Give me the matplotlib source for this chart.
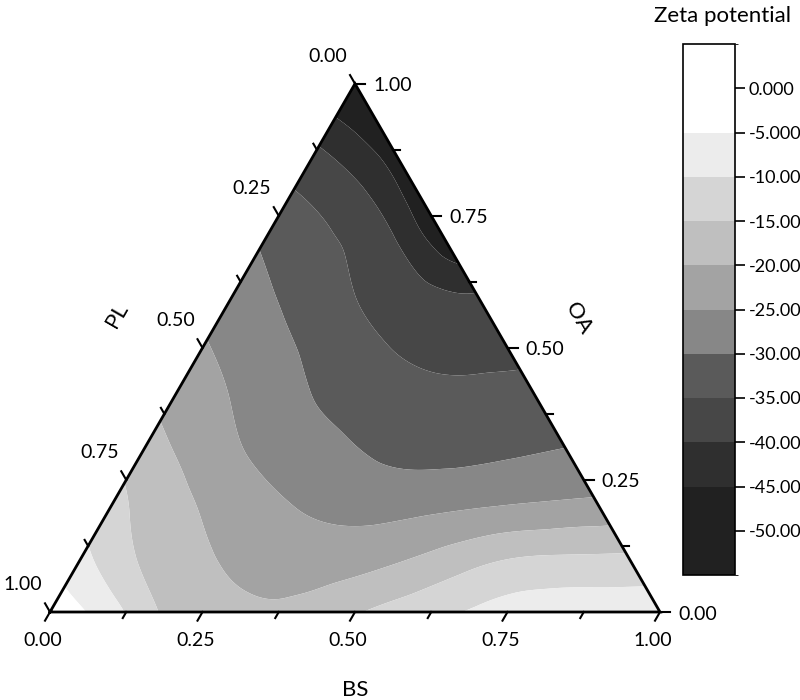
import numpy as np
import matplotlib
matplotlib.use("Agg")
import matplotlib.pyplot as plt
import matplotlib.tri as mtri
from matplotlib.colors import ListedColormap, BoundaryNorm

plt.rcParams['font.family'] = ['Lato', 'DejaVu Sans']
plt.rcParams['axes.unicode_minus'] = False

# zeta potential (step 0.1)
# one row per OA value, BS runs 0, 0.1, ... up to 1 - OA, PL is the rest
oa_rows = [0.0, 0.1, 0.2, 0.3, 0.4, 0.5, 0.6, 0.7, 0.8, 0.9, 1.0]
zeta_rows = [
    [-2.0, -8.0, -16.5, -19.0, -19.0, -15.5, -12.2, -9.3, -7.5, -7.0, -6.5],
    [-8.5, -15.5, -19.5, -21.6, -22.4, -21.0, -18.0, -15.0, -14.2, -14.0],
    [-13.2, -18.5, -22.0, -25.0, -26.5, -26.3, -25.3, -24.3, -23.5],
    [-17.5, -22.0, -26.0, -28.3, -30.7, -31.1, -30.4, -29.6],
    [-21.3, -25.2, -29.0, -31.8, -33.4, -33.5, -33.1],
    [-24.5, -28.1, -31.6, -34.8, -36.4, -36.2],
    [-27.5, -31.2, -35.0, -38.3, -39.7],
    [-30.5, -34.3, -38.5, -48.0],
    [-35.0, -39.0, -48.0],
    [-41.5, -48.0],
    [-52.0],
]

levels = [-55, -45, -40, -35, -30, -25, -20, -15, -10, -5, 5]
band_colors = ['#212121', '#2f2f2f', '#474747', '#5a5a5a', '#878787',
               '#a3a3a3', '#bfbfbf', '#d5d5d5', '#ececec', '#ffffff']
cbar_ticks = [0, -5, -10, -15, -20, -25, -30, -35, -40, -45, -50]
cbar_labels = ['0.000', '-5.000', '-10.00', '-15.00', '-20.00', '-25.00',
               '-30.00', '-35.00', '-40.00', '-45.00', '-50.00']

major_vals = [0.0, 0.25, 0.5, 0.75, 1.0]
major_labels = ['0.00', '0.25', '0.50', '0.75', '1.00']
minor_vals = [0.125, 0.375, 0.625, 0.875]

H = np.sqrt(3) / 2
PX = 1 / 610  # one pixel in data units (triangle side = 610 px)


def to_xy(bs, oa):
    return bs + oa / 2, oa * H


bs, oa, zz = [], [], []
for a, row in zip(oa_rows, zeta_rows):
    for i, z in enumerate(row):
        bs.append(i / 10)
        oa.append(a)
        zz.append(z)
x, y = to_xy(np.array(bs), np.array(oa))
zz = np.array(zz)

tri = mtri.Triangulation(x, y)
interp = mtri.CubicTriInterpolator(tri, zz, kind='min_E')
tri_f, z_f = mtri.UniformTriRefiner(tri).refine_field(zz, triinterpolator=interp, subdiv=4)
z_f = np.clip(z_f, -54.9, 4.9)

cmap = ListedColormap(band_colors)
norm = BoundaryNorm(levels, cmap.N)

fig = plt.figure(figsize=(8, 7), dpi=100)
ax = fig.add_axes([0, 0, 1, 1])
ax.set_xlim(-50 * PX, 750 * PX)
ax.set_ylim(-88 * PX, 612 * PX)
ax.axis('off')

cs = ax.tricontourf(tri_f, z_f, levels=levels, cmap=cmap, norm=norm, antialiased=True)

# triangle frame
ax.plot([0, 1, 0.5, 0], [0, 0, H, 0], color='black', lw=2, solid_joinstyle='miter', zorder=5)

fs = 14
for vals, ln in ((major_vals, 10), (minor_vals, 7)):
    for t in vals:
        # BS, bottom edge: ticks go down-left
        px, py = to_xy(t, 0)
        ax.plot([px, px - 0.5 * ln * PX], [py, py - H * ln * PX], color='black', lw=1.5, zorder=5)
        # OA, right edge: ticks go right
        px, py = to_xy(1 - t, t)
        ax.plot([px, px + ln * PX], [py, py], color='black', lw=1.5, zorder=5)
        # PL, left edge: ticks go up-left
        px, py = to_xy(0, 1 - t)
        ax.plot([px, px - 0.5 * ln * PX], [py, py + H * ln * PX], color='black', lw=1.5, zorder=5)

for t, lab in zip(major_vals, major_labels):
    px, py = to_xy(t, 0)
    ax.text(px - 7 * PX, py - 28 * PX, lab, ha='center', va='center', fontsize=fs)
    px, py = to_xy(1 - t, t)
    ax.text(px + 18 * PX, py - 2 * PX, lab, ha='left', va='center', fontsize=fs)
    px, py = to_xy(0, 1 - t)
    ax.text(px - 27 * PX, py + 27 * PX, lab, ha='center', va='center', fontsize=fs)

ax.text(0.5, -78 * PX, 'BS', ha='center', va='center', fontsize=16)
ax.text(67 * PX, 297 * PX, 'PL', ha='center', va='center', fontsize=16, rotation=60)
ax.text(528 * PX, 294 * PX, 'OA', ha='center', va='center', fontsize=16, rotation=-60)

# colour scale
cax = fig.add_axes([683 / 800, 1 - 575 / 700, 52 / 800, 531 / 700])
cb = fig.colorbar(cs, cax=cax, spacing='proportional', ticks=cbar_ticks)
cb.set_ticklabels(cbar_labels)
cb.ax.tick_params(length=7, width=1.2, labelsize=13, pad=3)
cb.outline.set_linewidth(1.2)
fig.text(722 / 800, 1 - 16 / 700, 'Zeta potential', ha='center', va='center', fontsize=16)

fig.savefig('out.png', dpi=100)
